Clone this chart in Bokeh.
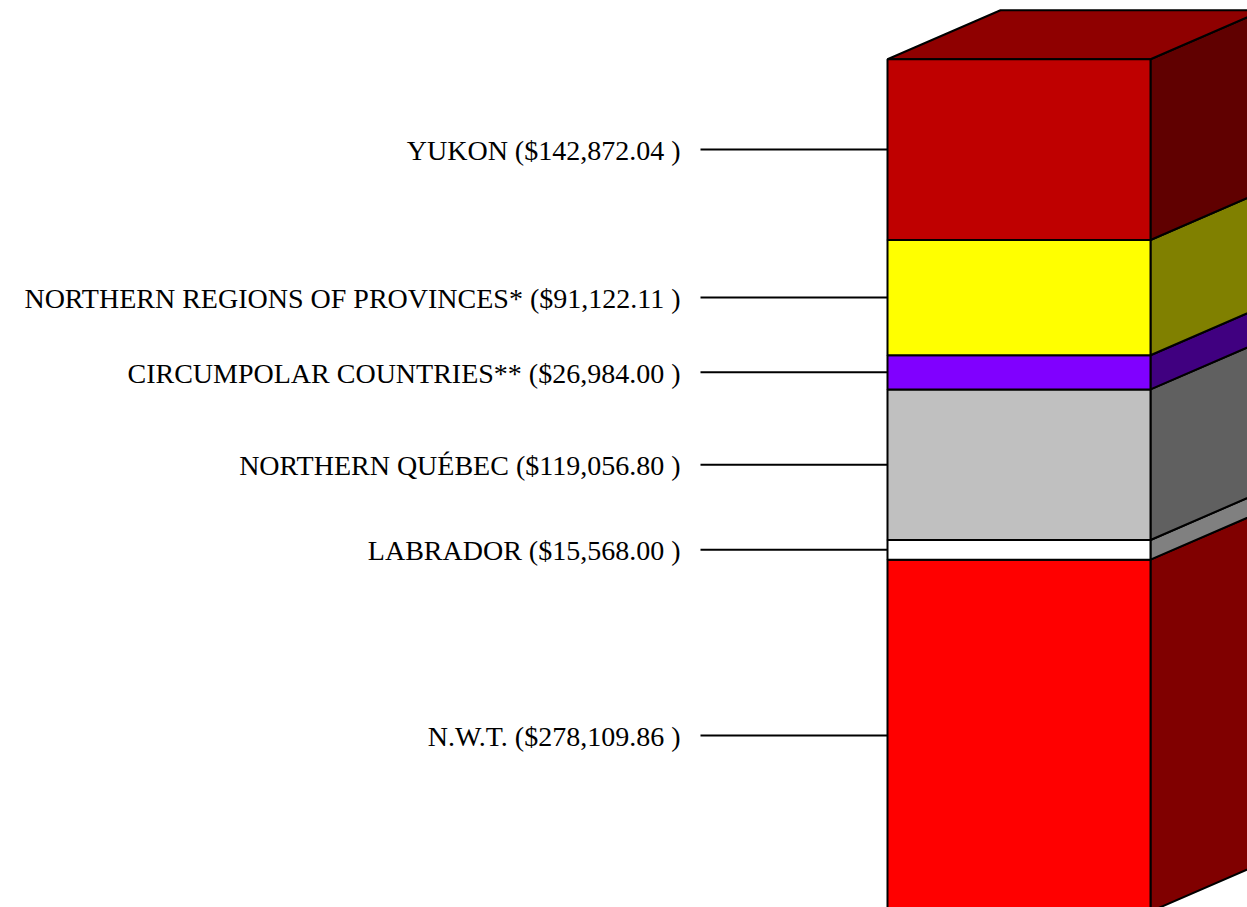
from bokeh.plotting import figure
from bokeh.embed import file_html
from bokeh.resources import INLINE
from bokeh.core.properties import value
from bokeh.models import ColumnDataSource

# Data (bottom to top)
regions = ["N.W.T.", "LABRADOR", "NORTHERN QUÉBEC", "CIRCUMPOLAR COUNTRIES**",
           "NORTHERN REGIONS OF PROVINCES*", "YUKON"]
amounts = [278109.86, 15568.00, 119056.80, 26984.00, 91122.11, 142872.04]
front_colors = ["#FF0000", "#FFFFFF", "#C0C0C0", "#8000FF", "#FFFF00", "#BF0000"]
side_colors = ["#800000", "#808080", "#606060", "#400080", "#808000", "#600000"]
top_color = "#8F0000"

# Layout constants (pixels)
W, H = 1247, 907
PX_PER_UNIT = 0.001265
BOTTOM_PX = 911          # pixel row of value 0 (just below the page)
FRONT_L, FRONT_R = 887, 1150
DEPTH_X, DEPTH_Y_PX = 113, 49
LABEL_X, LEAD_X0 = 680, 700

total = sum(amounts)
y_start = (BOTTOM_PX - H) / PX_PER_UNIT
y_end = y_start + H / PX_PER_UNIT
DY = DEPTH_Y_PX / PX_PER_UNIT

bottoms, tops = [], []
acc = 0.0
for a in amounts:
    bottoms.append(acc)
    acc += a
    tops.append(acc)
centers = [(b + t) / 2 for b, t in zip(bottoms, tops)]
labels = [f"{r} (${a:,.2f} )" for r, a in zip(regions, amounts)]

p = figure(width=W, height=H, x_range=(0, W), y_range=(y_start, y_end),
           output_backend="svg", toolbar_location=None, min_border=0,
           x_axis_location=None, y_axis_location=None,
           outline_line_color=None)
p.grid.visible = False
p.background_fill_color = "white"
p.border_fill_color = "white"

# side faces
xs = [[FRONT_R, FRONT_R + DEPTH_X, FRONT_R + DEPTH_X, FRONT_R] for _ in amounts]
ys = [[b, b + DY, t + DY, t] for b, t in zip(bottoms, tops)]
p.patches(xs=xs, ys=ys, fill_color=side_colors, line_color="black", line_width=2)

# top face
p.patch(x=[FRONT_L, FRONT_L + DEPTH_X, FRONT_R + DEPTH_X, FRONT_R],
        y=[total, total + DY, total + DY, total],
        fill_color=top_color, line_color="black", line_width=2)

# front faces
src = ColumnDataSource(dict(bottom=bottoms, top=tops, color=front_colors))
p.quad(left=FRONT_L, right=FRONT_R, bottom="bottom", top="top", fill_color="color",
       line_color="black", line_width=2, source=src)

# leader lines
p.segment(x0=[LEAD_X0] * len(centers), x1=[FRONT_L] * len(centers), y0=centers, y1=centers,
          line_color="black", line_width=2)

# labels
p.text(x=[LABEL_X] * len(centers), y=centers, text=labels, text_align="right",
       text_baseline="middle", text_font=value("Liberation Serif"),
       text_font_size="28px", text_color="black", y_offset=1)

open("out.html", "w").write(file_html(p, INLINE))
